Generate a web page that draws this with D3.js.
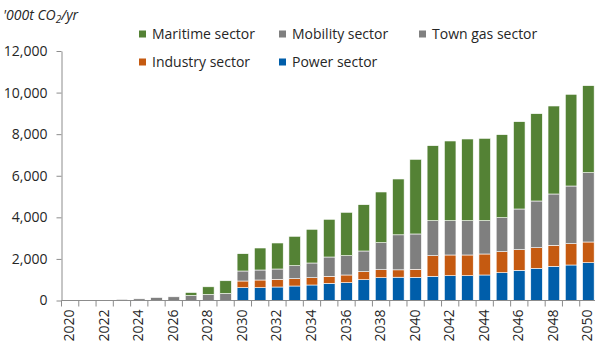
<!DOCTYPE html>
<html><head><meta charset="utf-8">
<script src="https://cdn.jsdelivr.net/npm/d3@7"></script>
<style>
html,body{margin:0;padding:0;background:#fff;}
svg text{font-family:"Open Sans",sans-serif;}
</style></head>
<body>
<svg id="chart" width="595" height="348"></svg>
<script>
const years = d3.range(2020, 2051).map(String);
const power    = [0,0,0,0,0,0,0,0,0,0, 616,616,649,697,746,827,856,1000,1097,1120,1116,1164,1193,1193,1227,1337,1452,1549,1645,1708,1818];
const industry = [0,0,0,0,0,0,0,0,0,0, 322,370,371,352,351,337,371,385,384,355,384,991,996,996,1010,1011,992,991,1010,1024,996];
const townGas  = [0,0,0,0,0,0,0,0,0,0, 0,0,0,0,0,0,0,0,0,0,0,0,0,0,0,0,0,0,0,0,0];
const mobility = [0,0,0,50,80,144,178,240,289,335, 481,481,495,625,707,928,928,996,1299,1685,1700,1683,1649,1649,1601,1635,1957,2246,2468,2775,3333];
const maritime = [0,0,0,0,0,0,0,145,370,615, 832,1058,1251,1414,1621,1814,2087,2227,2439,2684,3590,3608,3834,3930,3962,3993,4199,4199,4232,4411,4185];
const yTicks = [0,2000,4000,6000,8000,10000,12000];

const seriesNames = ["Power sector","Industry sector","Town gas sector","Mobility sector","Maritime sector"];
const seriesData = [power, industry, townGas, mobility, maritime];
const colors = {"Power sector":"#005eaa","Industry sector":"#c55a11","Town gas sector":"#808080","Mobility sector":"#7f7f7f","Maritime sector":"#548235"};

const rows = years.map((yr,i)=>{const r={year:yr}; seriesNames.forEach((s,k)=>r[s]=seriesData[k][i]); return r;});
const stacked = d3.stack().keys(seriesNames)(rows);

const svg = d3.select("#chart");
const mLeft = 61.5, mRight = 597, mTop = 51, mBottom = 300.5;
const x = d3.scaleBand().domain(years).range([mLeft, mRight]).paddingInner(0.33).paddingOuter(0.165);
const y = d3.scaleLinear().domain([0,12000]).range([mBottom, mTop]);
const axisColor = "#8c8c8c", textColor = "#262626";

// bars
svg.append("g").selectAll("g").data(stacked).join("g")
  .attr("fill", d=>colors[d.key])
  .selectAll("rect").data(d=>d).join("rect")
  .attr("x", d=>x(d.data.year))
  .attr("width", x.bandwidth())
  .attr("y", d=>y(d[1]))
  .attr("height", d=>Math.max(0, y(d[0])-y(d[1])))
  .attr("stroke", "#ffffff").attr("stroke-width", 0.6);

// y axis
const ya = svg.append("g").attr("transform",`translate(${mLeft},0)`)
  .call(d3.axisLeft(y).tickValues(yTicks).tickFormat(d3.format(",")).tickSizeInner(5).tickSizeOuter(0).tickPadding(9));
ya.select(".domain").attr("stroke", axisColor);
ya.selectAll(".tick line").attr("stroke", axisColor);
ya.selectAll("text").attr("fill", textColor).style("font-size","14px").style("font-family","Open Sans");

// x axis
const step = x.step();
const xa = svg.append("g").attr("transform",`translate(0,${mBottom})`);
xa.append("line").attr("x1",mLeft).attr("x2",mRight).attr("y1",0).attr("y2",0).attr("stroke",axisColor);
const bounds = d3.range(years.length+1).map(i=> i<years.length ? x(years[i]) - step*x.paddingInner()/2 : x(years[years.length-1]) + x.bandwidth() + step*x.paddingInner()/2);
xa.selectAll("line.t").data(bounds).join("line").attr("class","t")
  .attr("x1",d=>d).attr("x2",d=>d).attr("y1",0).attr("y2",6).attr("stroke",axisColor);
xa.selectAll("text").data(years.filter((d,i)=>i%2===0)).join("text")
  .attr("transform", d=>`translate(${x(d)+x.bandwidth()/2+4},9) rotate(-90)`)
  .attr("text-anchor","end").attr("fill",textColor).style("font-size","14px")
  .text(d=>d);

// y title
const t = svg.append("text").attr("x",3).attr("y",20).attr("fill",textColor)
  .style("font-size","14px").style("font-style","italic");
t.append("tspan").text("'000t CO");
t.append("tspan").attr("dy",3).style("font-size","10px").text("2");
t.append("tspan").attr("dy",-3).text("/yr");

// legend
const legendItems = [
  {name:"Maritime sector", x:139, y:34},
  {name:"Mobility sector", x:279, y:34},
  {name:"Town gas sector", x:419, y:34},
  {name:"Industry sector", x:139, y:62},
  {name:"Power sector", x:279, y:62}
];
const lg = svg.append("g").selectAll("g").data(legendItems).join("g")
  .attr("transform", d=>`translate(${d.x},${d.y})`);
lg.append("rect").attr("x",0).attr("y",-3.5).attr("width",7).attr("height",7).attr("fill",d=>colors[d.name]);
lg.append("text").attr("x",13).attr("y",5).attr("fill",textColor).style("font-size","14px").text(d=>d.name);
</script>
</body></html>
